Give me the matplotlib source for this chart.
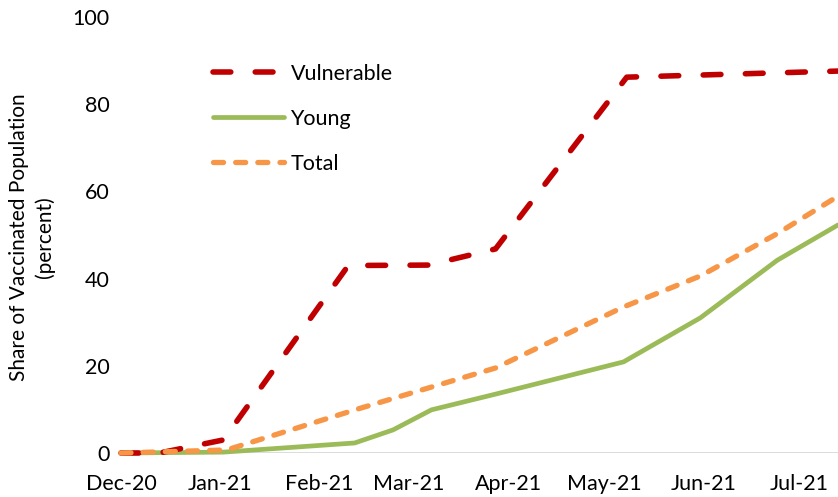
import matplotlib
matplotlib.use("Agg")
import matplotlib.pyplot as plt
import matplotlib.dates as mdates
import pandas as pd

# readings from the reference chart (percent of population vaccinated)
vuln_dates = ["2020-12-01", "2020-12-13", "2021-01-02", "2021-02-10", "2021-03-07",
              "2021-03-28", "2021-05-08", "2021-07-13"]
vuln_vals = [0, 0, 3.0, 43.0, 43.1, 46.8, 86.2, 87.6]

young_dates = ["2020-12-01", "2021-01-02", "2021-02-12", "2021-02-24", "2021-03-08",
               "2021-03-28", "2021-05-07", "2021-05-31", "2021-06-24", "2021-07-13"]
young_vals = [0, 0.2, 2.3, 5.3, 9.9, 13.5, 20.9, 31.0, 44.2, 52.3]

total_dates = ["2020-12-01", "2021-01-03", "2021-02-13", "2021-03-28", "2021-05-07",
               "2021-05-31", "2021-06-24", "2021-07-13"]
total_vals = [0, 0.7, 10.1, 19.5, 33.5, 40.6, 50.3, 58.9]

month_ticks = ["2020-12-01", "2021-01-01", "2021-02-01", "2021-03-01", "2021-04-01",
               "2021-05-01", "2021-06-01", "2021-07-01"]

RED = "#C00000"
GREEN = "#9BBB59"
ORANGE = "#F79646"
FONT = "Lato"

plt.rcParams["font.family"] = [FONT, "DejaVu Sans"]

W, H = 838, 497
fig = plt.figure(figsize=(W / 100, H / 100), dpi=100)
# axes placed in pixel terms: x from 121 to 838, y from 453 (0) to 17 (100)
ax = fig.add_axes([121 / W, 1 - 453 / H, (838 - 121) / W, (453 - 17) / H])

ax.plot(pd.to_datetime(vuln_dates), vuln_vals, color=RED, lw=4.0,
        dashes=(3.2, 4.4), dash_capstyle="round", solid_capstyle="round",
        label="Vulnerable", clip_on=False, zorder=4)
ax.plot(pd.to_datetime(young_dates), young_vals, color=GREEN, lw=3.4,
        solid_capstyle="round", label="Young", clip_on=False, zorder=3)
ax.plot(pd.to_datetime(total_dates), total_vals, color=ORANGE, lw=3.8,
        dashes=(1.9, 2.3), dash_capstyle="round",
        label="Total", clip_on=False, zorder=5)

ax.axhline(0, color="#D9D9D9", lw=1.3, zorder=1)

ax.set_ylim(0, 100)
ax.set_xlim(pd.Timestamp("2020-12-01"), pd.Timestamp("2021-07-13"))
ax.set_yticks([0, 20, 40, 60, 80, 100])
ax.set_xticks(pd.to_datetime(month_ticks))
ax.xaxis.set_major_formatter(mdates.DateFormatter("%b-%y"))
ax.tick_params(length=0, labelsize=15.5, colors="black")
ax.tick_params(axis="y", pad=8)
ax.tick_params(axis="x", pad=15)

for s in ax.spines.values():
    s.set_visible(False)

fig.text(32 / W, 1 - 237 / H, "Share of Vaccinated Population\n(percent)",
         rotation=90, ha="center", va="center", fontsize=15, linespacing=1.35)

leg = ax.legend(loc="upper left", bbox_to_anchor=(213 / W, 1 - 64 / H),
                bbox_transform=fig.transFigure, frameon=False, fontsize=15.5,
                handlelength=3.3, handletextpad=0.3, labelspacing=1.15,
                borderpad=0, borderaxespad=0)

fig.savefig("out.png", dpi=100)
